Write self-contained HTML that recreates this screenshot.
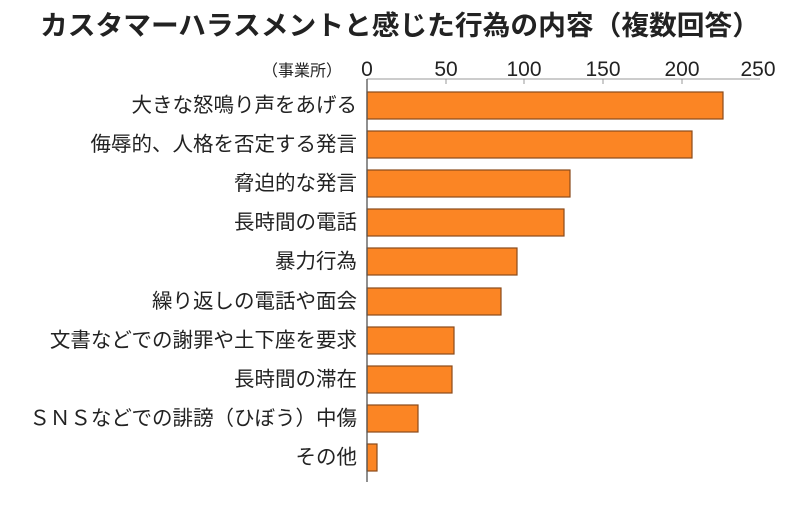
<!DOCTYPE html>
<html><head><meta charset="utf-8"><style>
html,body{margin:0;padding:0;background:#fff;}
svg text{font-family:"Liberation Sans","Noto Sans CJK JP",sans-serif;fill:#222;}
</style></head><body>
<svg width="800" height="509" xmlns="http://www.w3.org/2000/svg">
<text x="400" y="35" text-anchor="middle" font-size="27" font-weight="bold" textLength="720" lengthAdjust="spacingAndGlyphs">カスタマーハラスメントと感じた行為の内容（複数回答）</text>
<text x="342" y="76" text-anchor="end" font-size="16">（事業所）</text>
<g font-size="21" text-anchor="middle">
<text x="367" y="76">0</text><text x="446" y="76">50</text><text x="524" y="76">100</text><text x="603" y="76">150</text><text x="682" y="76">200</text><text x="758" y="76">250</text>
</g>
<line x1="367" y1="79" x2="760" y2="79" stroke="#999" stroke-width="1"/>
<g stroke="#999"><line x1="446" y1="79" x2="446" y2="84"/><line x1="524" y1="79" x2="524" y2="84"/><line x1="603" y1="79" x2="603" y2="84"/><line x1="682" y1="79" x2="682" y2="84"/></g>
<g fill="#fb8524" stroke="#8a4a1a" stroke-width="1.2">
<rect x="367" y="92" width="356" height="27"/>
<rect x="367" y="131" width="325" height="27"/>
<rect x="367" y="170" width="203" height="27"/>
<rect x="367" y="209" width="197" height="27"/>
<rect x="367" y="248" width="150" height="27"/>
<rect x="367" y="288" width="134" height="27"/>
<rect x="367" y="327" width="87" height="27"/>
<rect x="367" y="366" width="85" height="27"/>
<rect x="367" y="405" width="51" height="27"/>
<rect x="367" y="444" width="10" height="27"/>
</g>
<line x1="367" y1="79" x2="367" y2="482" stroke="#555" stroke-width="1.3"/>
<g font-size="20.5" text-anchor="end">
<text x="357" y="112">大きな怒鳴り声をあげる</text>
<text x="357" y="151">侮辱的、人格を否定する発言</text>
<text x="357" y="190">脅迫的な発言</text>
<text x="357" y="229">長時間の電話</text>
<text x="357" y="268">暴力行為</text>
<text x="357" y="308">繰り返しの電話や面会</text>
<text x="357" y="347">文書などでの謝罪や土下座を要求</text>
<text x="357" y="386">長時間の滞在</text>
<text x="357" y="425">ＳＮＳなどでの誹謗（ひぼう）中傷</text>
<text x="357" y="464">その他</text>
</g>
</svg>
</body></html>
